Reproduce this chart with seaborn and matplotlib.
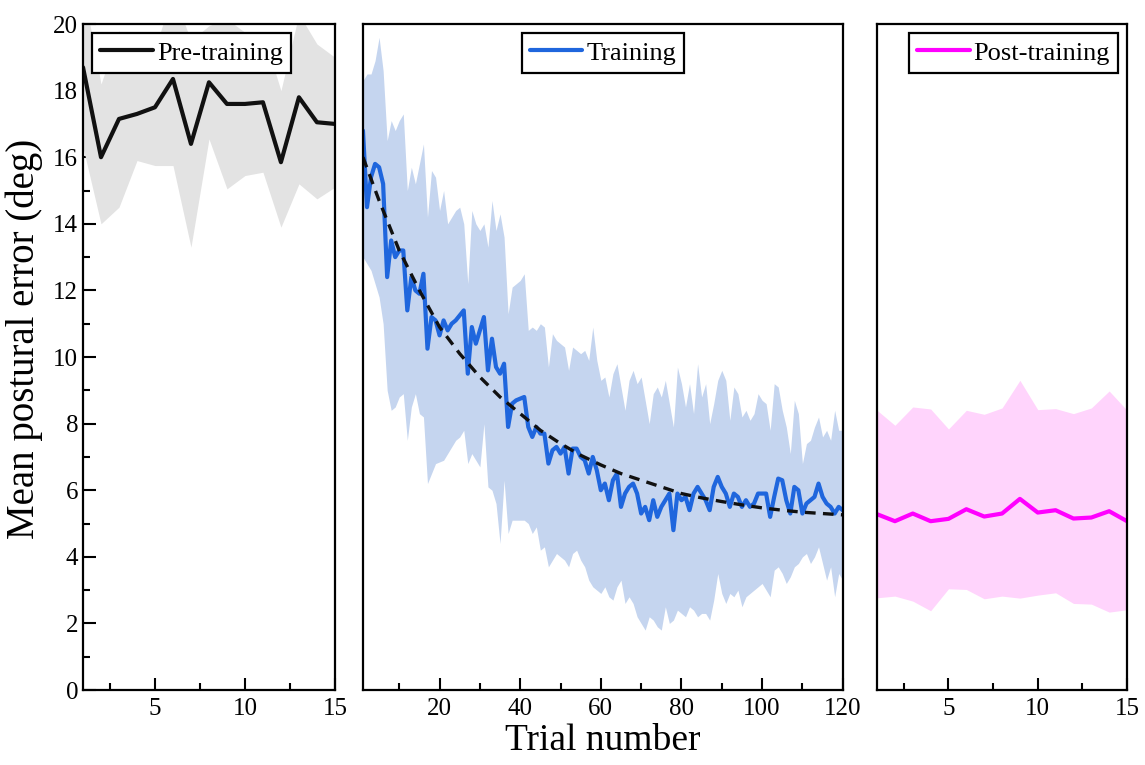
import numpy as np
import matplotlib
matplotlib.use("Agg")
import matplotlib.pyplot as plt
from matplotlib.ticker import MultipleLocator
import seaborn as sns

# --- data ---
pre_trials = np.arange(1, 16)
pre_mean = [18.7, 16.0, 17.15, 17.3, 17.5, 18.35, 16.4, 18.25, 17.6, 17.6,
            17.65, 15.85, 17.8, 17.05, 17.0]
pre_lower = [16.3, 14.0, 14.5, 15.9, 15.75, 15.75, 13.3, 16.55, 15.05, 15.45,
             15.55, 13.9, 15.2, 14.75, 15.1]
pre_upper = [21.1, 18.2, 19.8, 18.7, 19.25, 20.95, 19.5, 19.95, 20.15, 19.75,
             19.75, 18.0, 20.3, 19.4, 19.0]

train_trials = np.arange(1, 121)
train_mean = [16.8, 14.5, 15.4, 15.8, 15.7, 15.2, 12.4, 13.5, 13.0, 13.2,
              13.2, 11.4, 12.4, 12.0, 11.9, 12.5, 10.25, 11.2, 11.1, 10.65,
              11.1, 10.8, 11.0, 11.1, 11.25, 11.4, 9.5, 10.9, 10.4, 10.8,
              11.2, 9.6, 10.55, 9.7, 9.5, 9.8, 7.9, 8.6, 8.7, 8.75,
              8.8, 7.9, 7.6, 7.9, 7.7, 7.7, 6.8, 7.2, 7.3, 7.1,
              7.3, 6.5, 7.25, 7.25, 7.0, 6.9, 6.5, 7.0, 6.6, 6.0,
              6.2, 5.7, 6.3, 6.5, 5.5, 5.9, 6.1, 6.2, 5.9, 5.3,
              5.5, 5.1, 5.7, 5.2, 5.5, 5.7, 5.9, 4.8, 5.9, 5.7,
              5.8, 5.4, 5.9, 6.1, 5.9, 5.7, 5.4, 6.1, 6.4, 6.1,
              5.9, 5.5, 5.9, 5.8, 5.5, 5.7, 5.5, 5.6, 5.9, 5.9,
              5.9, 5.2, 5.8, 6.35, 6.3, 5.7, 5.3, 6.1, 6.0, 5.3,
              5.6, 5.7, 5.8, 6.2, 5.8, 5.6, 5.5, 5.3, 5.5, 5.4]
train_upper = [18.3, 18.5, 18.5, 18.9, 19.6, 18.6, 16.5, 17.1, 16.8, 17.1,
               17.3, 15.0, 15.7, 15.2, 15.8, 16.4, 14.2, 15.6, 15.4, 14.4,
               15.0, 14.0, 14.2, 14.4, 14.5, 14.0, 12.2, 14.4, 14.0, 13.8,
               14.0, 13.3, 14.7, 13.8, 14.3, 13.6, 11.3, 12.1, 12.2, 12.3,
               12.5, 10.8, 10.9, 10.8, 11.0, 10.9, 9.7, 10.7, 10.5, 10.4,
               10.3, 9.6, 10.3, 10.2, 10.1, 10.2, 9.9, 10.9, 9.9, 9.3,
               9.4, 8.8, 9.5, 9.8, 9.1, 8.4, 9.3, 9.6, 9.2, 9.4,
               8.7, 8.0, 8.9, 9.1, 8.8, 9.3, 8.6, 7.9, 9.7, 9.2,
               8.5, 9.2, 8.3, 9.8, 8.8, 9.2, 8.0, 8.6, 9.3, 9.6,
               9.3, 8.1, 9.1, 8.9, 8.2, 8.4, 8.1, 8.3, 8.9, 8.7,
               8.6, 7.8, 9.2, 9.1, 8.4, 7.9, 7.1, 8.7, 8.3, 6.8,
               7.4, 7.5, 7.9, 8.2, 7.6, 7.8, 7.5, 8.4, 7.8, 7.8]
train_lower = [13.0, 12.8, 12.6, 12.2, 11.8, 11.0, 9.0, 8.4, 8.5, 8.8,
               8.9, 7.5, 8.5, 8.9, 8.3, 8.2, 6.2, 6.5, 6.8, 6.85,
               6.9, 7.1, 7.3, 7.5, 7.6, 7.8, 6.8, 7.1, 6.9, 6.7,
               8.0, 6.1, 6.0, 5.6, 4.4, 6.3, 4.7, 5.1, 5.1, 5.1,
               5.1, 5.0, 4.7, 4.9, 4.2, 4.3, 3.7, 3.9, 4.1, 4.0,
               3.9, 3.7, 4.1, 4.2, 3.9, 3.7, 3.3, 3.1, 3.0, 2.9,
               3.1, 2.8, 2.7, 3.1, 3.3, 2.6, 2.8, 2.6, 2.2, 2.0,
               1.8, 2.2, 2.1, 1.9, 1.8, 2.5, 2.0, 2.1, 2.4, 2.3,
               2.2, 2.5, 2.4, 2.2, 2.3, 2.3, 2.1, 2.7, 3.5, 2.9,
               2.6, 2.9, 2.8, 3.0, 2.5, 2.8, 2.9, 3.0, 3.1, 3.2,
               3.0, 2.8, 3.6, 3.7, 3.5, 3.2, 3.4, 3.7, 3.8, 4.0,
               4.1, 3.8, 4.0, 4.3, 3.8, 3.3, 3.7, 2.8, 3.5, 3.3]

# dashed exponential fit, read at every 5th trial
fit_trials = [1, 5, 10, 15, 20, 25, 30, 35, 40, 45, 50, 55, 60, 65, 70,
              75, 80, 85, 90, 95, 100, 105, 110, 115, 120]
fit_values = [16.0, 14.7, 13.2, 12.0, 10.9, 10.1, 9.4, 8.8, 8.3, 7.8, 7.4,
              7.05, 6.76, 6.5, 6.3, 6.1, 5.9, 5.77, 5.66, 5.56, 5.47, 5.4,
              5.34, 5.3, 5.26]

post_trials = np.arange(1, 16)
post_mean = [5.28, 5.07, 5.3, 5.07, 5.14, 5.43, 5.21, 5.3, 5.74, 5.33,
             5.4, 5.15, 5.18, 5.37, 5.07]
post_lower = [2.77, 2.82, 2.67, 2.38, 3.04, 3.02, 2.74, 2.82, 2.76, 2.85,
              2.92, 2.6, 2.58, 2.34, 2.41]
post_upper = [8.4, 7.95, 8.5, 8.44, 7.84, 8.4, 8.28, 8.47, 9.3, 8.42,
              8.45, 8.3, 8.47, 8.98, 8.4]

sns.set_style("ticks")
plt.rcParams['font.family'] = ['Liberation Serif', 'DejaVu Serif']
plt.rcParams['axes.linewidth'] = 1.6
plt.rcParams['xtick.direction'] = 'in'
plt.rcParams['ytick.direction'] = 'in'
for key in ('text.color', 'axes.labelcolor', 'xtick.color', 'ytick.color',
            'axes.edgecolor'):
    plt.rcParams[key] = 'black'

fig = plt.figure(figsize=(11.45, 7.65), dpi=100)
bottom, height = 0.098, 0.8706
ax_pre = fig.add_axes([0.0725, bottom, 0.220, height])
ax_tr = fig.add_axes([0.317, bottom, 0.419, height])
ax_post = fig.add_axes([0.766, bottom, 0.2183, height])

# pre-training
ax_pre.fill_between(pre_trials, pre_lower, pre_upper, color='#e3e3e3', lw=0)
sns.lineplot(x=pre_trials, y=pre_mean, ax=ax_pre, color='#111111', lw=3,
             label='Pre-training')

# training
ax_tr.fill_between(train_trials, train_lower, train_upper, color='#c5d5ef', lw=0)
sns.lineplot(x=train_trials, y=train_mean, ax=ax_tr, color='#1f66dd', lw=3,
             label='Training')
ax_tr.plot(fit_trials, fit_values, color='#111111', lw=2.4, ls=(0, (3.2, 2.2)))

# post-training
ax_post.fill_between(post_trials, post_lower, post_upper, color='#ffd4fc', lw=0)
sns.lineplot(x=post_trials, y=post_mean, ax=ax_post, color='#ff00ff', lw=3,
             label='Post-training')

for ax in (ax_pre, ax_tr, ax_post):
    ax.set_ylim(0, 20)
    for s in ax.spines.values():
        s.set_visible(True)
        s.set_color('black')
    ax.tick_params(axis='x', which='major', length=9, width=1.5, labelsize=18,
                   pad=6, top=False)
    ax.tick_params(axis='x', which='minor', length=5, width=1.5, top=False)

ax_pre.set_xlim(1, 15)
ax_post.set_xlim(1, 15)
ax_tr.set_xlim(1, 120)
for ax in (ax_pre, ax_post):
    ax.xaxis.set_major_locator(MultipleLocator(5))
    ax.xaxis.set_minor_locator(MultipleLocator(2.5))
ax_tr.xaxis.set_major_locator(MultipleLocator(20))
ax_tr.xaxis.set_minor_locator(MultipleLocator(10))

ax_pre.yaxis.set_major_locator(MultipleLocator(2))
ax_pre.yaxis.set_minor_locator(MultipleLocator(1))
ax_pre.tick_params(axis='y', which='major', length=9, width=1.5, labelsize=18,
                   right=False)
ax_pre.tick_params(axis='y', which='minor', length=5, width=1.5, right=False)
for ax in (ax_tr, ax_post):
    ax.tick_params(axis='y', which='both', left=False, right=False,
                   labelleft=False)

ax_pre.set_xticks([5, 10, 15])
ax_pre.set_ylabel('Mean postural error (deg)', fontsize=28)
ax_pre.yaxis.set_label_coords(-0.16, 0.528)
ax_tr.set_xlabel('Trial number', fontsize=27, labelpad=2)
ax_pre.set_xlabel('')
ax_post.set_xlabel('')

legend_kw = dict(frameon=True, fancybox=False, edgecolor='black', fontsize=19,
                 handlelength=2.0, handletextpad=0.15, borderpad=0.3,
                 borderaxespad=0.35, framealpha=1)
for ax, loc in ((ax_pre, 'upper left'), (ax_tr, 'upper center'),
                (ax_post, 'upper right')):
    leg = ax.legend(loc=loc, **legend_kw)
    leg.get_frame().set_linewidth(1.6)

fig.savefig('out.png', dpi=100)
